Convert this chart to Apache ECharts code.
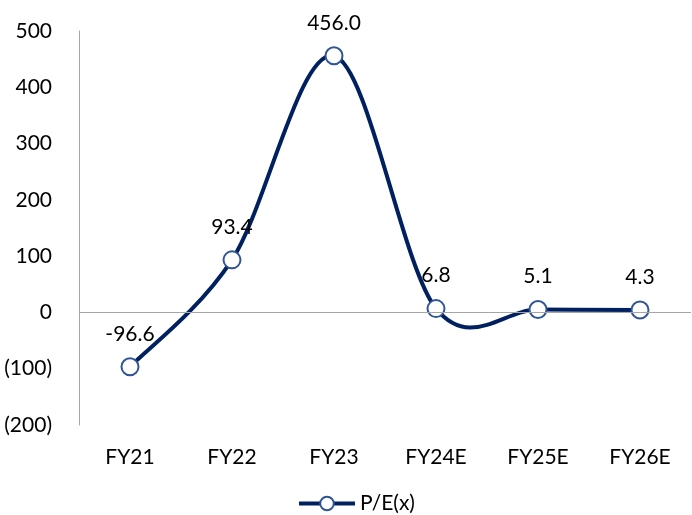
<!DOCTYPE html>
<html>
<head>
<meta charset="utf-8">
<script src="https://cdn.jsdelivr.net/npm/echarts@6/dist/echarts.min.js"></script>
<style>
  html, body { margin: 0; padding: 0; background: #fff; }
  #chart { width: 692px; height: 515px; }
</style>
</head>
<body>
<div id="chart"></div>
<script>
// Fiscal years and P/E multiples
const years = ['FY21', 'FY22', 'FY23', 'FY24E', 'FY25E', 'FY26E'];
const peValues = [-96.6, 93.4, 456.0, 6.8, 5.1, 4.3];
const seriesName = 'P/E(x)';

const FONT = 'Lato';
const FS = 21;
const NAVY = '#002060';
const RING = '#2F5597';
const LINE_W = 4;

const chart = echarts.init(document.getElementById('chart'), null, { renderer: 'canvas' });

// Negative values shown in accounting style: (100)
function fmtAxis(v) {
  return v < 0 ? '(' + Math.abs(v) + ')' : String(v);
}

// Spline segments: cubic Bezier between consecutive points, tangents from the
// neighbouring points (one sixth of the chord), evaluated in pixel space.
const segmentData = peValues.slice(0, -1).map((v, i) => [i, v]);

function renderSegment(params, api) {
  const i = params.dataIndex;
  const n = peValues.length;
  const pt = k => {
    const kk = Math.max(0, Math.min(n - 1, k));
    return api.coord([kk, peValues[kk]]);
  };
  const p0 = pt(i - 1), p1 = pt(i), p2 = pt(i + 1), p3 = pt(i + 2);
  return {
    type: 'bezierCurve',
    shape: {
      x1: p1[0], y1: p1[1],
      x2: p2[0], y2: p2[1],
      cpx1: p1[0] + (p2[0] - p0[0]) / 6,
      cpy1: p1[1] + (p2[1] - p0[1]) / 6,
      cpx2: p2[0] - (p3[0] - p1[0]) / 6,
      cpy2: p2[1] - (p3[1] - p1[1]) / 6
    },
    style: { stroke: NAVY, lineWidth: LINE_W, fill: null, lineCap: 'round' },
    silent: true
  };
}

chart.setOption({
  animation: false,
  backgroundColor: '#ffffff',
  textStyle: { fontFamily: FONT },
  grid: { left: 79, right: 1, top: 31, bottom: 90, containLabel: false },
  legend: {
    top: 493,
    left: 297,
    padding: 0,
    itemWidth: 56,
    itemHeight: 17,
    itemGap: 4,
    textStyle: { fontFamily: FONT, fontSize: FS, color: '#000' },
    data: [{ name: seriesName, lineStyle: { color: NAVY, width: LINE_W, opacity: 1 } }]
  },
  xAxis: {
    type: 'category',
    data: years,
    boundaryGap: true,
    axisLine: { show: false, onZero: false },
    axisTick: { show: false },
    axisLabel: { fontFamily: FONT, fontSize: FS, color: '#000', margin: 22 }
  },
  yAxis: {
    type: 'value',
    min: -200,
    max: 500,
    interval: 100,
    axisLine: { show: true, lineStyle: { color: '#A6A6A6', width: 1 } },
    axisTick: { show: false },
    splitLine: { show: false },
    axisLabel: { fontFamily: FONT, fontSize: FS, color: '#000', margin: 27, formatter: fmtAxis }
  },
  series: [
    {
      name: 'curve',
      type: 'custom',
      coordinateSystem: 'cartesian2d',
      data: segmentData,
      renderItem: renderSegment,
      z: 2,
      markLine: {
        silent: true,
        symbol: ['none', 'none'],
        label: { show: false },
        lineStyle: { color: '#A6A6A6', width: 1, type: 'solid' },
        data: [{ yAxis: 0 }]
      }
    },
    {
      name: seriesName,
      type: 'line',
      data: peValues,
      symbol: 'circle',
      symbolSize: 17,
      showAllSymbol: true,
      lineStyle: { color: NAVY, width: LINE_W, opacity: 0 },
      itemStyle: { color: '#ffffff', borderColor: RING, borderWidth: 2 },
      label: {
        show: true,
        position: 'top',
        distance: 13,
        fontFamily: FONT,
        fontSize: FS,
        color: '#000',
        formatter: p => p.value.toFixed(1)
      },
      z: 3
    }
  ]
});
</script>
</body>
</html>
